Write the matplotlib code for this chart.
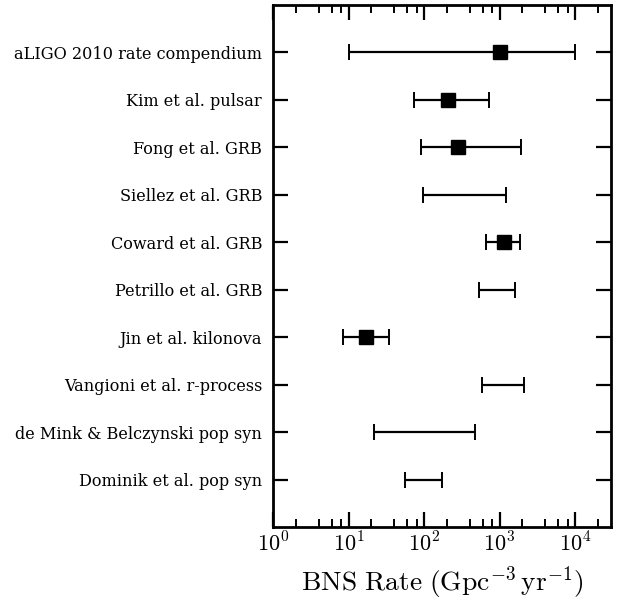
import numpy as np
import matplotlib.pyplot as plt
from matplotlib.ticker import LogLocator, NullFormatter

plt.rcParams['mathtext.fontset'] = 'cm'
plt.rcParams['font.family'] = 'DejaVu Serif'

labels = ['aLIGO 2010 rate compendium', 'Kim et al. pulsar', 'Fong et al. GRB',
          'Siellez et al. GRB', 'Coward et al. GRB', 'Petrillo et al. GRB',
          'Jin et al. kilonova', 'Vangioni et al. r-process',
          'de Mink & Belczynski pop syn', 'Dominik et al. pop syn']
low = [10, 74, 92, 96, 665, 528, 8.5, 577, 22, 55]
high = [10000, 730, 1900, 1200, 1890, 1590, 34, 2110, 476, 172]
central = [1000, 210, 280, None, 1150, None, 17, None, None, None]

fig, ax = plt.subplots(figsize=(6.28, 6.08), dpi=100)
fig.subplots_adjust(left=0.435, right=0.973, top=0.992, bottom=0.133)

for i in range(len(labels)):
    mid = np.sqrt(low[i] * high[i])
    ax.errorbar([mid], [i], xerr=[[mid - low[i]], [high[i] - mid]],
                fmt='none', ecolor='black', elinewidth=1.6, capsize=6, capthick=1.4)
    if central[i] is not None:
        ax.plot(central[i], i, 's', color='black', markersize=10.5)

ax.set_xscale('log')
ax.set_xlim(1, 3e4)
ax.set_ylim(len(labels), -1)
ax.set_yticks(range(len(labels)))
ax.set_yticklabels(labels, fontsize=11.6)
ax.set_xticks([1, 10, 100, 1000, 10000])
ax.set_xticklabels([r'$10^{%d}$' % k for k in range(5)], fontsize=16)
ax.xaxis.set_minor_locator(LogLocator(base=10, subs=(2, 4, 6, 8)))
ax.xaxis.set_minor_formatter(NullFormatter())
ax.tick_params(axis='both', which='major', direction='in', length=11, width=1.6,
               top=True, right=True)
ax.tick_params(axis='x', which='minor', direction='in', length=6, width=1.4, top=True)
ax.tick_params(axis='y', which='major', pad=8)
ax.tick_params(axis='x', which='major', pad=4)
for s in ax.spines.values():
    s.set_linewidth(2)
ax.set_xlabel(r'$\mathrm{BNS\ Rate}\ (\mathrm{Gpc}^{-3}\,\mathrm{yr}^{-1})$', fontsize=19.8, labelpad=5)

fig.savefig('out.png')
